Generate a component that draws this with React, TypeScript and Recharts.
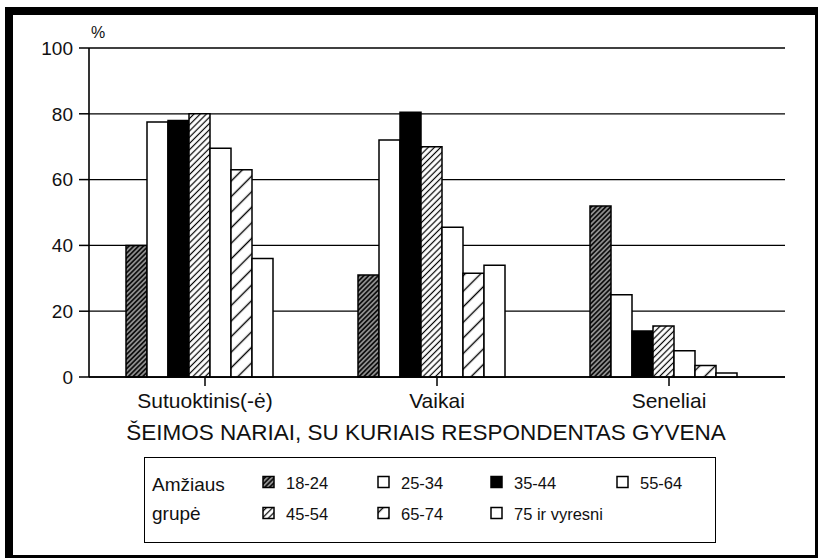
import React from 'react';
import { BarChart, Bar, XAxis, YAxis, CartesianGrid, Legend, Label } from 'recharts';

const CATEGORIES = ['Sutuoktinis(-ė)', 'Vaikai', 'Seneliai'];
const AGE_GROUPS = ['18-24', '25-34', '35-44', '45-54', '55-64', '65-74', '75 ir vyresni'];

// values per age group, in category order
const AGE_18_24 = [40, 31, 52];
const AGE_25_34 = [77.5, 72, 25];
const AGE_35_44 = [78, 80.5, 14];
const AGE_45_54 = [80, 70, 15.5];
const AGE_55_64 = [69.5, 45.5, 8];
const AGE_65_74 = [63, 31.5, 3.5];
const AGE_75_UP = [36, 34, 1.2];
// empty slot: the original groups sit a little left of their ticks
const SPACER = [0, 0, 0];

const SERIES = [AGE_18_24, AGE_25_34, AGE_35_44, AGE_45_54, AGE_55_64, AGE_65_74, AGE_75_UP];
const Y_TICKS = [0, 20, 40, 60, 80, 100];

const FILLS = [
  'url(#hatchDark)', // 18-24
  '#fff',            // 25-34
  '#000',            // 35-44
  'url(#hatchFine)', // 45-54
  '#fff',            // 55-64
  'url(#hatchWide)', // 65-74
  '#fff',            // 75+
];

const data = CATEGORIES.map((name, i) => {
  const row: Record<string, string | number> = { name, spacer: SPACER[i] };
  AGE_GROUPS.forEach((g, j) => {
    row[g] = SERIES[j][i];
  });
  return row;
});

const FONT = '"Liberation Sans", Arial, Helvetica, sans-serif';

// legend layout: two rows of series indices
const LEGEND_ROWS = [[0, 1, 2, 4], [3, 5, 6]];
const LEGEND_COLS = [118, 233, 346, 472];

const AgeLegend = () => (
  <div
    style={{
      width: 572,
      height: 86,
      border: '1.5px solid #000',
      boxSizing: 'border-box',
      background: '#fff',
    }}
  >
    <svg width={569} height={83} style={{ display: 'block', fontFamily: FONT }}>
      <text x={7} y={33} fontSize={19} fill="#111">Amžiaus</text>
      <text x={7} y={62} fontSize={19} fill="#111">grupė</text>
      {LEGEND_ROWS.map((row, r) =>
        row.map((idx, c) => (
          <g key={AGE_GROUPS[idx]}>
            <rect
              x={LEGEND_COLS[c]}
              y={r === 0 ? 18.5 : 49.5}
              width={11}
              height={11}
              fill={FILLS[idx]}
              stroke="#000"
              strokeWidth={1.5}
            />
            <text x={LEGEND_COLS[c] + 23} y={r === 0 ? 30.5 : 61.5} fontSize={16.5} fill="#111">
              {AGE_GROUPS[idx]}
            </text>
          </g>
        ))
      )}
    </svg>
  </div>
);

export default function App() {
  return (
    <div style={{ position: 'absolute', left: 0, top: 0, width: 821, height: 559, background: '#fff' }}>
      <div
        style={{
          position: 'absolute',
          left: 5,
          top: 7,
          width: 813,
          height: 551,
          boxSizing: 'border-box',
          borderTop: '8px solid #000',
          borderLeft: '8px solid #000',
          borderRight: '3px solid #000',
          borderBottom: '3px solid #000',
        }}
      />
      <BarChart
        width={821}
        height={559}
        data={data}
        margin={{ top: 48, right: 36, left: 0, bottom: 112 }}
        barGap={0}
        style={{ fontFamily: FONT }}
      >
        <defs>
          <pattern id="hatchDark" patternUnits="userSpaceOnUse" width={3.4} height={3.4} patternTransform="rotate(45)">
            <rect width={3.4} height={3.4} fill="#111" />
            <line x1={1.7} y1={0} x2={1.7} y2={3.4} stroke="#fff" strokeWidth={0.9} />
          </pattern>
          <pattern id="hatchFine" patternUnits="userSpaceOnUse" width={4.4} height={4.4} patternTransform="rotate(45)">
            <rect width={4.4} height={4.4} fill="#fff" />
            <line x1={2.2} y1={0} x2={2.2} y2={4.4} stroke="#000" strokeWidth={1.2} />
          </pattern>
          <pattern id="hatchWide" patternUnits="userSpaceOnUse" width={11} height={11} patternTransform="rotate(45)">
            <rect width={11} height={11} fill="#fff" />
            <line x1={5.5} y1={0} x2={5.5} y2={11} stroke="#000" strokeWidth={1.4} />
          </pattern>
        </defs>
        <CartesianGrid vertical={false} stroke="#000" strokeWidth={1.3} />
        <XAxis
          dataKey="name"
          interval={0}
          height={70}
          tickSize={9}
          tickMargin={7}
          axisLine={{ stroke: '#000', strokeWidth: 1.6 }}
          tickLine={{ stroke: '#000', strokeWidth: 1.5 }}
          tick={{ fill: '#111', fontSize: 21 }}
        >
          <Label
            content={(props: any) => {
              const vb = props.viewBox || {};
              return (
                <text
                  x={vb.x + vb.width / 2 - 11}
                  y={vb.y + 63}
                  textAnchor="middle"
                  fontSize={22.5}
                  fill="#111"
                  fontFamily={FONT}
                >
                  ŠEIMOS NARIAI, SU KURIAIS RESPONDENTAS GYVENA
                </text>
              );
            }}
          />
        </XAxis>
        <YAxis
          width={89}
          domain={[0, 100]}
          ticks={Y_TICKS}
          interval={0}
          tickSize={10}
          tickMargin={6}
          axisLine={{ stroke: '#000', strokeWidth: 1.6 }}
          tickLine={{ stroke: '#000', strokeWidth: 1.5 }}
          tick={{ fill: '#111', fontSize: 19 }}
        >
          <Label
            content={(props: any) => {
              const vb = props.viewBox || {};
              return (
                <text x={vb.x + vb.width + 2} y={vb.y - 10} fontSize={16} fill="#111" fontFamily={FONT}>
                  %
                </text>
              );
            }}
          />
        </YAxis>
        <YAxis
          yAxisId="right"
          orientation="right"
          width={0}
          domain={[0, 100]}
          tick={false}
          tickLine={false}
          axisLine={{ stroke: '#000', strokeWidth: 1.6 }}
        />
        <Legend
          layout="vertical"
          align="center"
          verticalAlign="middle"
          content={() => <AgeLegend />}
          wrapperStyle={{ left: 144, top: 457, width: 572, height: 86 }}
        />
        {AGE_GROUPS.map((g, j) => (
          <Bar
            key={g}
            dataKey={g}
            barSize={21}
            fill={FILLS[j]}
            stroke="#000"
            strokeWidth={1.5}
            isAnimationActive={false}
          />
        ))}
        <Bar dataKey="spacer" barSize={12} fill="none" stroke="none" isAnimationActive={false} />
      </BarChart>
    </div>
  );
}
